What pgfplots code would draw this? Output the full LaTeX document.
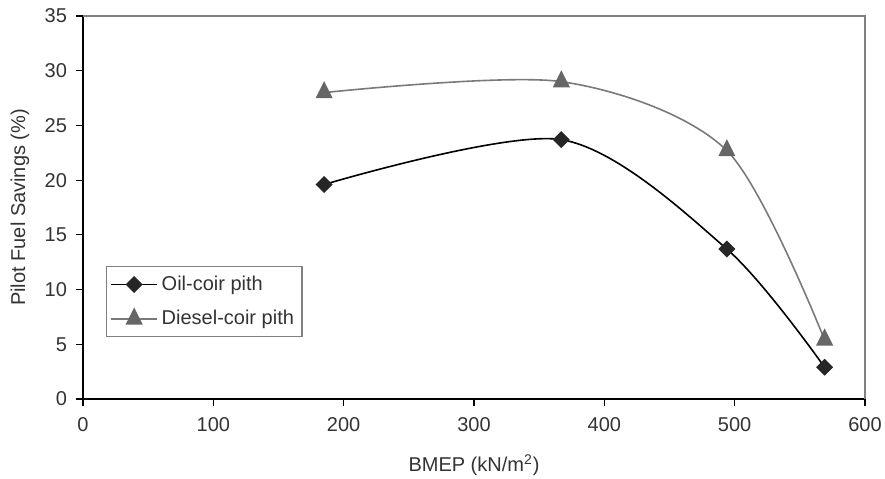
\documentclass[border=0pt]{standalone}
\usepackage{fontspec}
\setmainfont{Liberation Sans}
\usepackage{pgfplots}
\pgfplotsset{compat=1.18}
\usetikzlibrary{calc}
\definecolor{txt}{HTML}{333333}
\definecolor{dieselline}{HTML}{7A7A7A}
\definecolor{dieselmark}{HTML}{666666}

\begin{document}
\begin{tikzpicture}
\begin{axis}[
  name=ax,
  scale only axis,
  width=391pt, height=191.5pt,
  xmin=0, xmax=600, ymin=0, ymax=35,
  xtick={0,100,...,600}, ytick={0,5,...,35},
  axis lines*=left,
  axis line style={black, line width=0.8pt},
  tick align=outside, major tick length=3.5pt,
  tick style={black, line width=0.6pt},
  /pgf/number format/assume math mode=true,
  tick label style={font=\fontsize{10}{12}\selectfont, text=txt},
  xticklabel style={yshift=-2pt},
  yticklabel style={xshift=-1pt},
  label style={font=\fontsize{10}{12}\selectfont, text=txt},
  xlabel={BMEP (kN/m\textsuperscript{2})},
  ylabel={Pilot Fuel Savings (\%)},
  xlabel style={at={(axis description cs:0.5,-0.172)}, anchor=center},
  ylabel style={at={(axis description cs:-0.0806,0.5)}, anchor=center},
  legend style={at={(axis description cs:0.0294,0.347)}, anchor=north west,
    draw=gray, line width=0.6pt, font=\fontsize{10}{12}\selectfont, text=txt,
    row sep=4.5pt, inner xsep=2pt, inner ysep=2.5pt},
  legend cell align=left,
  legend image code/.code={
    \draw[mark repeat=2,mark phase=2,#1] plot coordinates {(0cm,0cm) (0.4cm,0cm) (0.8cm,0cm)};},
  clip=false,
]
\draw[gray, line width=0.6pt] (rel axis cs:0,1) -- (rel axis cs:1,1) -- (rel axis cs:1,0);
\addplot[black, line width=0.8pt, smooth, mark=square*, mark size=2.6pt,
  mark options={rotate=45, fill=black!85, draw=black!85}]
  coordinates {(185,19.6)(367,23.7)(494,13.7)(569,2.9)};
\addlegendentry{Oil-coir pith}
\addplot[dieselline, line width=0.8pt, smooth, mark=triangle*, mark size=4.2pt,
  mark options={yscale=1.15, fill=dieselmark, draw=dieselmark}]
  coordinates {(185,28.0)(367,29.0)(494,22.7)(569,5.4)};
\addlegendentry{Diesel-coir pith}
\end{axis}
\pgfresetboundingbox
\path[use as bounding box] ($(ax.south west)+(-41.5pt,-40pt)$) rectangle ($(ax.north east)+(10pt,8pt)$);
\end{tikzpicture}
\end{document}
